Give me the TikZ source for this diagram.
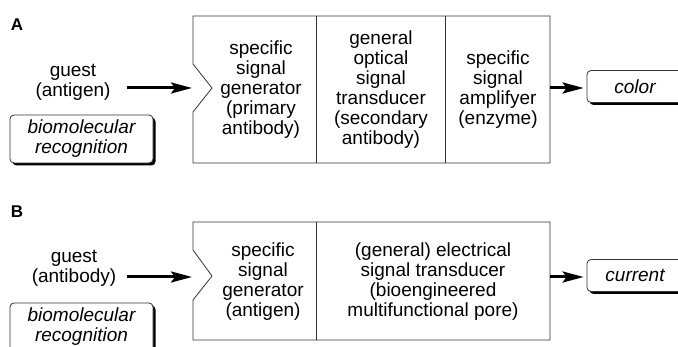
\documentclass[tikz,border=0pt]{standalone}
\usepackage{fontspec}
\setmainfont{Liberation Sans}
\usetikzlibrary{arrows.meta,shadows}
\begin{document}
\begin{tikzpicture}[x=1pt,y=-1pt,
 txt/.style={font=\fontsize{19}{20}\selectfont, align=center, inner sep=0pt},
 panel/.style={font=\fontsize{17}{18}\selectfont\bfseries, inner sep=0pt},
 boxline/.style={draw=black!80, line width=0.8pt},
 arr/.style={line width=3pt, -{Stealth[length=21pt,width=11pt,inset=4pt]}},
 recog/.style={boxline, fill=white, rounded corners=4pt, align=center, inner sep=0pt,
   font=\fontsize{19}{20}\selectfont\itshape,
   drop shadow={shadow xshift=2.5pt, shadow yshift=-2.5pt, fill=black, opacity=1}},
 outbox/.style={recog, minimum width=96pt, minimum height=32pt}
]
\clip (0,0) rectangle (678,347);
\fill[white] (0,0) rectangle (678,347);

% ---------- Panel A ----------
\node[panel] (labA) at (17,25) {A};
\node[txt] (guestA) at (73,82) {guest\\(antigen)};
\node[recog, minimum width=143pt, minimum height=48pt] (recA) at (81.5,139) {biomolecular\\recognition};

\draw[boxline] (193,16) -- (550,16) -- (550,163) -- (193,163) -- (193,112) -- (212,88) -- (193,64) -- cycle;
\draw[boxline] (316,16) -- (316,163);
\draw[boxline] (445,16) -- (445,163);

\node[txt] (a1) at (261,90) {specific\\signal\\generator\\(primary\\antibody)};
\node[txt] (a2) at (381,90) {general\\optical\\signal\\transducer\\(secondary\\antibody)};
\node[txt] (a3) at (498,90) {specific\\signal\\amplifyer\\(enzyme)};

\node[outbox] (colA) at (635,86.5) {color};

\coordinate (srcA) at (127,88);
\coordinate (inA) at (192,88);
\coordinate (outA) at (550,88);
\draw[arr] (srcA) -- (inA);
\draw[arr, shorten >=3pt] (outA) -- (colA.west |- outA);

% ---------- Panel B ----------
\node[panel] (labB) at (17,212) {B};
\node[txt] (guestB) at (74,268) {guest\\(antibody)};
\node[recog, minimum width=143pt, minimum height=48pt] (recB) at (81.5,327) {biomolecular\\recognition};

\draw[boxline] (193,222) -- (550,222) -- (550,340) -- (193,340) -- (193,300) -- (212,276) -- (193,250) -- cycle;
\draw[boxline] (316,222) -- (316,340);

\node[txt] (b1) at (263,282) {specific\\signal\\generator\\(antigen)};
\node[txt] (b2) at (433,282) {(general) electrical\\signal transducer\\(bioengineered\\multifunctional pore)};

\node[outbox] (curB) at (635,275.5) {current};

\coordinate (srcB) at (127,277);
\coordinate (inB) at (192,277);
\coordinate (outB) at (550,277);
\draw[arr] (srcB) -- (inB);
\draw[arr, shorten >=3pt] (outB) -- (curB.west |- outB);
\end{tikzpicture}
\end{document}
